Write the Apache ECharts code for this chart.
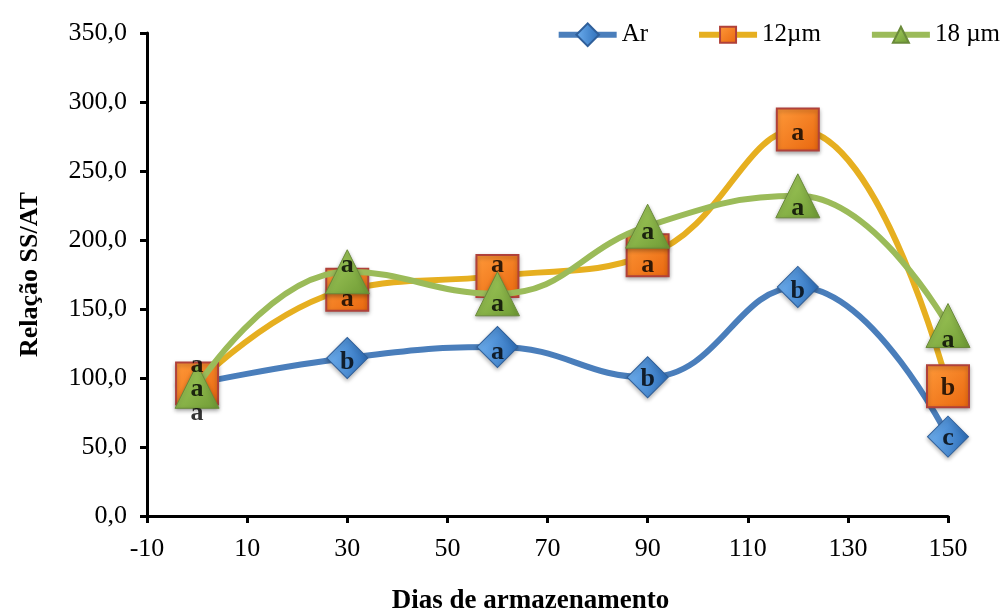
<!DOCTYPE html>
<html><head><meta charset="utf-8">
<script src="https://cdn.jsdelivr.net/npm/echarts@6/dist/echarts.min.js"></script>
<style>html,body{margin:0;padding:0;background:#fff}#c{width:1003px;height:608px}</style>
</head><body><div id="c"></div>
<script>
const days = [0, 30, 60, 90, 120, 150];
const ar = [96, 114.5, 122.5, 100.5, 166, 57.5];
const um12 = [96, 164, 174, 189, 280, 94];
const um18 = [94, 177, 161, 210, 232, 138];
const arLetters = ['a', 'b', 'a', 'b', 'b', 'c'];
const um12Letters = ['a', 'a', 'a', 'a', 'a', 'b'];
const um18Letters = ['a', 'a', 'a', 'a', 'a', 'a'];

const font = '"Liberation Serif","Times New Roman",serif';
function grad(c1, c2) {
  return new echarts.graphic.LinearGradient(0, 0, 1, 1, [{offset: 0, color: c1}, {offset: 1, color: c2}]);
}
function pts(vals) { return vals.map((v, i) => [days[i], v]); }
function labelSeries(name, vals, letters, offs) {
  return {
    name: name, type: 'scatter', symbolSize: 2, itemStyle: {color: 'rgba(0,0,0,0)'}, z: 10, silent: true,
    data: pts(vals),
    label: {show: true, position: 'inside', color: '#000', fontFamily: font, fontWeight: 'bold', fontSize: 26,
      formatter: p => letters[p.dataIndex]},
    labelLayout: p => ({dy: offs[p.dataIndex], hideOverlap: false})
  };
}
const shadow = {shadowBlur: 4, shadowColor: 'rgba(0,0,0,0.3)', shadowOffsetY: 2};

const chart = echarts.init(document.getElementById('c'));
chart.setOption({
  animation: false,
  grid: {left: 147, right: 55, top: 33, bottom: 92, outerBoundsMode: 'none', containLabel: false},
  legend: {
    right: 3, top: 17, itemGap: 48, itemWidth: 58, itemHeight: 20, padding: [5, 0, 5, 5],
    textStyle: {fontFamily: font, fontSize: 25, color: '#000'},
    lineStyle: {width: 6},
    data: ['Ar', '12µm', '18 µm']
  },
  xAxis: {
    type: 'value', min: -10, max: 150, interval: 20,
    name: 'Dias de armazenamento', nameLocation: 'middle', nameGap: 72,
    nameTextStyle: {fontFamily: font, fontWeight: 'bold', fontSize: 27, color: '#000', padding: [0, 34, 0, 0]},
    axisLine: {onZero: false, lineStyle: {color: '#000', width: 3}},
    axisTick: {show: true, length: 7, lineStyle: {color: '#000', width: 3}},
    axisLabel: {fontFamily: font, fontSize: 26, color: '#000', margin: 20, formatter: v => String(v)},
    splitLine: {show: false}
  },
  yAxis: {
    type: 'value', min: 0, max: 350, interval: 50,
    name: 'Relação SS/AT', nameLocation: 'middle', nameGap: 104, nameRotate: 90,
    nameTextStyle: {fontFamily: font, fontWeight: 'bold', fontSize: 26, color: '#000'},
    axisLine: {show: true, onZero: false, lineStyle: {color: '#000', width: 3}},
    axisTick: {show: true, length: 7, lineStyle: {color: '#000', width: 3}},
    axisLabel: {fontFamily: font, fontSize: 26, color: '#000', margin: 20, formatter: v => v.toFixed(1).replace('.', ',')},
    splitLine: {show: false}
  },
  series: [
    {
      name: 'Ar', type: 'line', smooth: 0.45, data: pts(ar),
      lineStyle: {color: '#4A7EBB', width: 6},
      symbol: 'rect', symbolRotate: 45, symbolSize: 29,
      itemStyle: Object.assign({color: grad('#6FB0F0', '#2C6DB8'), borderColor: '#2F5F9A', borderWidth: 1}, shadow),
      z: 2
    },
    {
      name: '12µm', type: 'line', smooth: 0.45, data: pts(um12),
      lineStyle: {color: '#E6AF20', width: 6},
      symbol: 'rect', symbolSize: 42,
      itemStyle: Object.assign({color: grad('#FF9A3A', '#E8660E'), borderColor: '#B0413A', borderWidth: 2}, shadow),
      z: 3
    },
    {
      name: '18 µm', type: 'line', smooth: 0.45, data: pts(um18),
      lineStyle: {color: '#9BBB59', width: 6},
      symbol: 'triangle', symbolSize: [44, 44],
      itemStyle: Object.assign({color: grad('#A8D060', '#6E9A34'), borderColor: '#6A8A3A', borderWidth: 1}, shadow),
      z: 4
    },
    labelSeries('Ar-lbl', ar, arLetters, [30, 4, 5, 2, 4, 2]),
    labelSeries('12-lbl', um12, um12Letters, [-18, 10, -11, 10, 4, 2]),
    labelSeries('18-lbl', um18, um18Letters, [3, -6, 10, 6, 12, 15])
  ]
});
</script></body></html>
